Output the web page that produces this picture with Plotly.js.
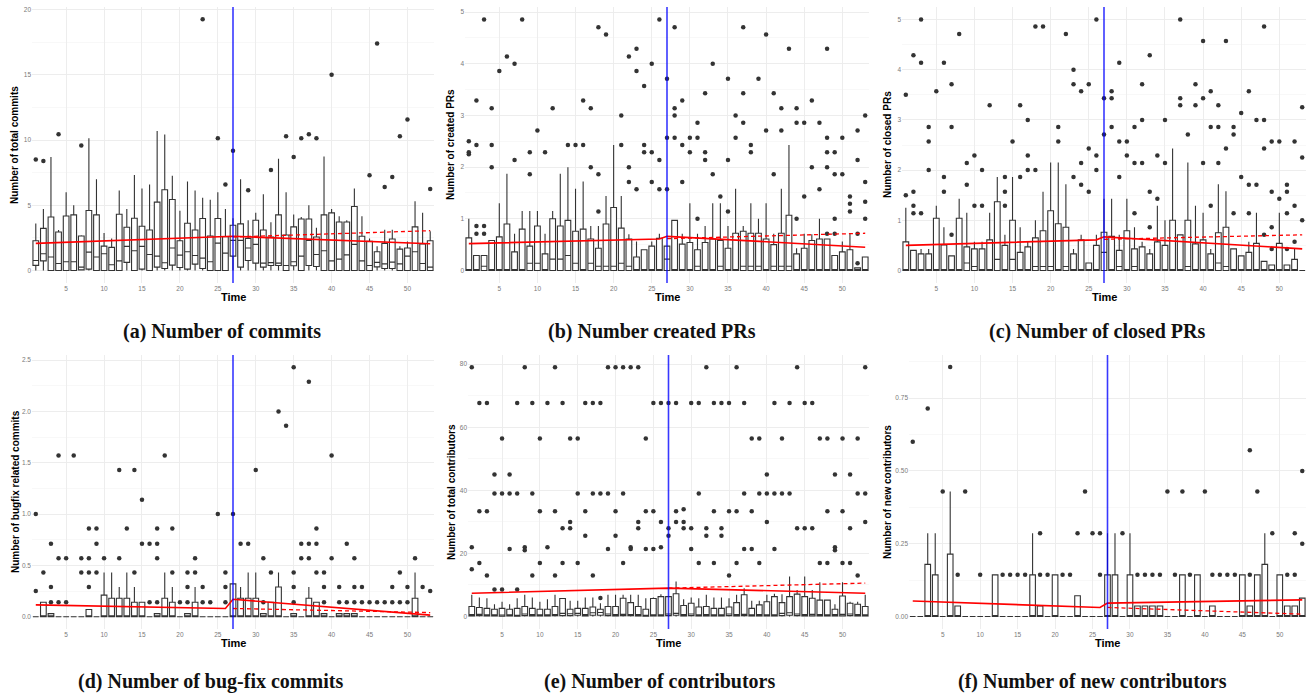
<!DOCTYPE html>
<html><head><meta charset="utf-8">
<script src="https://cdn.plot.ly/plotly-3.0.1.min.js"></script>
<style>html,body{margin:0;padding:0;background:#fff}#chart{width:1309px;height:694px}</style>
</head><body><div id="chart"></div>
<script>
// ---------------- DATA ----------------
const time = [1,2,3,4,5,6,7,8,9,10,11,12,13,14,15,16,17,18,19,20,21,22,23,24,25,26,27,28,29,30,31,32,33,34,35,36,37,38,39,40,41,42,43,44,45,46,47,48,49,50,51,52,53];
const interventionTime = 27;
const xTicks = [5,10,15,20,25,30,35,40,45,50];
const trendT = [1,26,27,53];
const cfT = [27,53];

const captions = ["(a) Number of commits","(b) Number created PRs","(c) Number of closed PRs",
                  "(d) Number of bug-fix commits","(e) Number of contributors","(f) Number of new contributors"];
const yTitles = ["Number of total commits","Number of created PRs","Number of closed PRs",
                 "Number of bugfix related commits","Number of total contributors","Number of new contributors"];
const xTitle = "Time";

// (a) commits
const q1_a = [0.39,0.74,0,0,0,0,0.05,0.1,0,0, 0,0,0.62,0,0.1,0,0.26,0.15,0.41,0.23, 0.1,0.49,0.15,0,0,0,1.1,0.26,0.77,0.56, 0.26,0.38,0.38,0,0.36,0,0.38,0.3,0,0, 0,0,0,0,0,0.28,0.15,0.15,0,0, 0,0,0];
const med_a = [0.77,1.28,1.03,0.54,0.67,0.67,0.26,1.41,1.03,1.28, 0.44,0.74,1.85,1.51,1.85,1.23,1.10,0.59,1.72,1.18, 1.44,1.15,0.95,0.67,2.10,1.33,2.31,2.31,1.72,2.00, 0.56,0.60,0.56,0.38,0.67,1.10,2.31,1.23,1.51,0.74, 0.87,1.20,2.00,0.74,0.38,0.62,0.51,0.64,0.51,1.10, 1.44,0.54,0.26];
const q3_a = [2.28,3.23,4.10,2.95,4.18,4.26,2.64,4.60,4.26,1.87, 1.77,4.31,3.31,4.00,3.39,3.10,5.24,6.19,5.44,2.28, 3.62,3.10,3.98,2.64,3.98,2.59,3.47,3.57,2.46,3.85, 3.10,2.57,4.26,2.72,3.34,3.95,3.95,2.57,4.26,4.42, 3.72,3.72,4.90,2.62,2.23,1.44,2.08,2.41,1.64,1.72, 3.34,2.03,2.28];
const up_a = [3.6,4.72,8.7,3.1,6.0,5.0,2.7,10.14,7.0,2.88, 2.46,6.14,4.72,7.32,6.29,6.6,10.7,10.42,7.27,4.57, 6.83,6.14,5.57,5.42,6.0,4.72,4.0,7.0,3.85,4.42, 5.85,3.7,8.57,6.0,4.29,4.1,5.0,3.28,8.73,4.72, 4.16,3.85,6.29,4.16,2.46,1.85,3.13,3.13,1.85,2.23, 5.31,4.42,3.0];
const out_a = [[8.5],[8.4],[],[10.45],[],[],[9.58],[],[],[],
  [],[],[],[],[],[],[],[],[],[],
  [],[],[19.26],[],[10.14],[6.6],[9.17],[],[6.16],[],
  [],[7.7],[],[10.3],[8.7],[10.14],[10.45],[10.14],[],[15.0],
  [],[],[],[],[7.3],[17.4],[6.4],[7.16],[10.3],[11.58],
  [],[],[6.24]];
const trend_a = [2.08,2.55,2.62,2.05];
const cf_a = [2.57,3.05];

// (b) created PRs
const q1_b = [0,0,0,0,0,0,0,0,0,0, 0,0,0,0,0,0,0,0,0,0, 0,0,0,0,0,0,0,0,0,0, 0,0,0,0,0,0,0,0,0,0, 0,0,0,0,0,0,0,0,0,0, 0,0,0];
const med_b = [0,0,0.08,0,0,0,0,0,0.14,0.14, 0,0.22,0.22,0.29,0.14,0,0.14,0.08,0.08,0.08, 0.14,0.08,0,0,0,0,0.22,0,0,0, 0.08,0,0,0.08,0,0,0.08,0.08,0.08,0, 0.08,0.08,0.08,0,0,0,0,0,0,0, 0,0,0];
const q3_b = [0.63,0.29,0.29,0.58,0.65,0.90,0.36,0.80,0.47,0.86, 0.32,1.00,0.86,0.97,0.76,0.80,0.61,0.43,0.90,1.22, 0.82,0.61,0.26,0.40,0.47,0.62,0.47,0.97,0.51,0.54, 0.40,0.54,0.61,0.58,0.43,0.72,0.76,0.72,0.72,0.61, 0.50,0.72,1.07,0.32,0.43,0.58,0.61,0.61,0.29,0.36, 0.40,0.05,0.26];
const up_b = [1.00,0.29,0.29,0.58,1.30,1.87,0.71,1.15,1.15,1.15, 0.71,1.15,1.87,2.00,1.58,1.72,0.86,0.86,1.44,2.43, 1.44,0.70,0.56,0.40,0.56,0.71,0.47,0.97,0.71,1.30, 0.71,0.86,1.30,1.30,0.86,1.58,0.86,1.30,1.00,1.30, 0.71,1.58,2.43,0.43,0.71,0.70,1.00,0.61,0.29,0.56, 0.71,0.05,0.26];
const out_b = [[2.5,2.29,2.25],[3.29,2.43,0.86,0.71],[4.86,0.86,0.71],[3.14,2.43,2.0],[3.86],[4.14],[4.0,2.14],[4.86],[2.29,1.86],[2.71],
  [2.29],[3.14],[],[2.43],[2.43],[3.29,2.43],[3.14,2.0],[4.71,1.86,1.14],[4.57],[],
  [3.0,2.43],[4.14,2.0,1.71],[4.29,3.86,1.57],[3.57,2.43,2.29],[4.0,2.29,1.71],[4.86,2.14,1.57],[3.71,2.57,1.57],[4.71,3.14,3.0,2.57],[3.29,2.43,1.71],[2.57,2.29],
  [2.86,2.57,1.0],[3.43,2.29,2.14],[4.0,1.86],[1.43],[3.71,2.14,1.14],[3.0,2.57],[4.71,3.43,2.86],[2.43,2.29],[3.71],[4.57,2.71],
  [3.43,1.86],[3.14,2.71],[4.29],[3.14,2.86,1.0],[2.86,1.43],[3.29,2.0],[2.86,1.57],[4.29,2.57,2.29,2.0,0.71],[2.29,1.86,1.0,0.71],[2.57,1.86],
  [1.43,1.29,1.14],[2.71,2.14,0.71,0.14],[3.0,1.71,1.33,1.0]];
const trend_b = [0.52,0.61,0.66,0.45];
const cf_b = [0.615,0.72];

// (c) closed PRs
const q1_c = [0,0,0,0,0,0,0,0,0,0, 0,0,0,0,0,0,0,0,0,0, 0,0,0,0,0,0,0,0,0,0, 0,0,0,0,0,0,0,0,0,0, 0,0,0,0,0,0,0,0,0,0, 0,0,0];
const med_c = [0,0,0,0,0,0,0,0,0.15,0.08, 0,0,0.22,0,0.22,0,0,0.08,0.08,0.08, 0,0.08,0,0,0,0,0.36,0,0.08,0, 0.08,0,0,0,0,0,0,0.08,0,0, 0,0.15,0.08,0,0,0,0,0,0,0, 0,0,0];
const q3_c = [0.57,0.40,0.33,0.33,1.04,0.51,0.29,1.04,0.47,0.43, 0.43,0.61,1.37,0.50,1.00,0.36,0.47,0.65,0.79,1.19, 0.93,0.86,0.33,0.61,0.15,0.50,0.76,0.68,0.40,0.79, 0.43,0.47,0.33,0.57,0.50,1.00,0.71,1.00,0.53,0.61, 0.33,0.75,0.86,0.43,0.29,0.36,0.54,0.18,0.11,0.54, 0.11,0.22,0];
const up_c = [1.25,0.40,0.43,0.43,1.29,0.86,0.29,1.43,1.15,0.57, 0.57,1.15,1.86,0.71,1.86,0.86,0.57,1.00,1.57,2.15, 2.15,1.72,0.43,0.71,0.15,0.71,1.43,1.43,0.71,1.43, 0.86,0.57,0.43,1.29,1.00,2.43,0.71,2.15,1.29,1.15, 0.43,1.72,1.58,0.43,0.29,0.57,1.15,0.18,0.11,1.15, 0.11,0.43,0];
const out_c = [[3.5,1.5],[4.29,1.57,1.29,1.14],[5.0,4.14,1.14],[2.86,2.57,2.0],[3.57],[4.14,1.86,1.57],[3.71,2.86,0.71],[4.71],[2.14,1.71],[2.29,1.29],
  [2.0,1.29],[3.29],[],[1.86,1.57,1.29],[2.57],[3.29,1.86],[3.0,2.29,2.0],[4.86,2.0],[4.86],[],
  [2.86,2.57],[4.71],[4.0,3.71,1.86],[3.57,2.14,1.71],[3.71,2.43,1.57],[5.0,2.29,2.0],[3.43,2.71],[3.57,3.43,2.86],[4.14,2.57,1.86],[2.57,2.29],
  [2.86,2.14,1.14],[3.71,3.0,2.14],[4.29,1.57,0.86],[2.29,1.43],[3.0,2.14],[],[5.0,3.43,3.29],[2.71],[3.71,3.29],[4.57,3.43,2.14],
  [3.57,2.86,1.29],[3.29,2.86,2.14],[4.57,2.43],[2.86,2.71,1.14],[3.14,1.86],[3.57,1.71,1.14],[3.0,1.71],[4.86,3.0,2.43,0.71],[2.57,1.57,0.86,0.43],[2.57,1.43],
  [1.71,1.57,1.14,0.43],[2.57,1.29,0.57],[3.25,2.25,1.0]];
const trend_c = [0.50,0.61,0.67,0.43];
const cf_c = [0.62,0.71];

// (d) bug-fix commits
const q1_d = [0,0,0,0,0,0,0,0,0,0, 0,0,0,0,0,0,0,0,0,0, 0,0,0,0,0,0,0,0,0,0, 0,0,0,0,0,0,0,0,0,0, 0,0,0,0,0,0,0,0,0,0, 0,0,0];
const med_d = [0,0,0,0,0,0,0,0,0,0, 0,0,0,0,0,0,0,0,0,0, 0,0,0,0,0,0,0,0,0,0, 0,0,0,0,0,0,0,0,0,0, 0,0,0,0,0,0,0,0,0,0, 0,0,0];
const q3_d = [0,0.14,0.03,0,0,0,0,0.07,0,0.21, 0.18,0.18,0.18,0.14,0.14,0,0.03,0.18,0.14,0, 0.03,0.14,0,0,0,0,0.32,0.18,0.18,0.18, 0.03,0.14,0.29,0,0.03,0,0.18,0.14,0.03,0, 0.03,0.03,0.03,0,0,0,0,0,0,0, 0.18,0,0];
const up_d = [0,0.14,0.03,0,0,0,0,0.07,0,0.43, 0.43,0.29,0.43,0.29,0.14,0,0.03,0.43,0.29,0, 0.03,0.29,0,0,0,0,0.32,0.29,0.43,0.43, 0.03,0.14,0.43,0,0.03,0,0.29,0.14,0.03,0, 0.03,0.03,0.03,0,0,0,0,0,0,0, 0.43,0,0];
const out_d = [[1.0,0.25],[0.43],[0.71,0.29,0.14],[1.57,0.57,0.14],[0.57,0.14],[1.57],[0.57,0.43],[0.86,0.57,0.43,0.29],[0.86,0.71,0.43],[0.57],
  [],[1.43,0.57],[0.86],[1.43,0.43],[1.14,0.71],[0.71,0.14],[0.86,0.71,0.57,0.14],[1.57],[0.86,0.43],[0.14],
  [0.43,0.29,0.14],[0.57,0.43],[0.29,0.14],[0.14],[1.0],[0.43,0.29,0.14],[1.0],[0.71],[0.71],[1.43],
  [0.57,0.14],[0.43],[2.0],[1.86],[2.43,0.43,0.29,0.14],[0.71,0.57],[2.29,0.71,0.57],[0.86,0.71,0.43],[0.43,0.29,0.14],[1.57,0.57],
  [0.29,0.14],[0.71,0.14],[0.57,0.29,0.14],[0.29,0.14],[0.14],[0.14],[0.14],[0.29,0.14],[0.43,0.14],[0.29,0.14],
  [0.57],[0.29],[0.25]];
const trend_d = [0.115,0.08,0.17,0.015];
const cf_d = [0.08,0.04];

// (e) contributors
const q1_e = [0.2,0.3,0.2,0.2,0.1,0.2,0.1,0.3,0.2,0.2, 0.2,0.3,0.3,0.3,0.4,0.2,0.4,0.4,0.3,0.2, 0.3,0.3,0.2,0.1,0.2,0.2,0.3,0.4,0.2,0.3, 0.2,0.2,0.2,0.2,0.3,0.2,0.3,0.2,0.2,0.2, 0.2,0.3,0.4,0.3,0.2,0.2,0.2,0.2,0.2,0.2, 0.3,0.2,0.2];
const med_e = [0.6,0.7,0.5,0.4,0.5,0.4,0.4,0.8,0.6,0.5, 0.5,0.6,1.0,0.9,1.0,0.6,1.2,1.3,0.8,0.6, 0.7,0.6,0.6,0.4,0.5,0.5,0.8,1.0,0.6,0.8, 0.5,0.6,0.5,0.5,0.8,0.6,0.7,0.5,0.6,0.5, 0.5,1.0,1.2,0.8,0.6,0.7,0.6,0.5,0.6,0.7, 0.8,0.6,0.5];
const q3_e = [3.2,2.85,2.6,2.3,2.6,2.3,2.6,3.2,2.6,2.3, 2.3,3.2,5.7,2.3,2.6,2.6,3.0,2.3,3.2,3.2, 5.8,4.4,3.2,2.3,5.7,6.3,6.3,7.2,3.5,4.2, 3.0,3.2,2.6,2.6,3.0,4.4,6.9,2.6,3.7,4.7, 6.3,4.4,6.3,7.1,6.3,5.8,5.2,5.2,2.3,6.5, 4.2,3.9,3.2];
const up_e = [6.9,6.0,5.8,3.9,4.7,3.9,5.8,6.9,6.0,4.7, 5.5,6.9,5.7,5.0,5.0,6.0,6.0,4.2,6.9,6.9, 6.9,6.9,6.9,5.8,6.0,7.1,6.3,11.1,5.5,6.0, 5.8,6.9,6.0,6.0,5.8,6.9,9.0,5.0,5.0,6.9, 7.2,7.1,12.7,8.4,12.7,8.4,10.9,5.4,3.9,10.9, 4.7,4.7,6.9];
const out_e = [[79,22,15],[67.7,33.4,17],[67.7,33.4,13],[45,39,8.6],[56.4,39,8.6],[45,39,21.4],[67.7,39,8.6],[79,22,21],[67.7,39,13],[56.4,33.4,17],
  [67.7,22],[79,33.4,13],[67.7,28,17],[56.4,30,28],[56.4,39,17],[67.7,33.4,25.6],[67.7,39,13],[67.7,39,5.9],[79,39,21.4],[79,33.4,25.6],
  [79,39,17],[79,22,21.4],[79,30,28],[56.4,33.4,21.4],[67.7,33.4,21.4],[67.7,30,22],[67.7,28,25.6],[67.7,33.4,30],[34,30,28],[67.7,28,21.4],
  [67.7,39,17],[79,28,25.6],[67.7,33.4,17],[67.7,28,25.6],[67.7,33.4,13],[79,33.4,17],[67.7,39,21.4],[56.4,33.4,21.4],[56.4,39,17],[45,39,30],
  [67.7,39,21.4],[56.4,39],[67.7,39],[79,28],[67.7,28],[67.7,28],[56.4,17],[56.4,33.4,17],[45,22,21],[56.4,33.4,17],
  [45,28,17],[56.4,39,13],[79,39,30]];
const trend_e = [7.4,9.0,9.0,7.4];
const cf_e = [9.0,10.6];

// (f) new contributors
const q1_f = [0,0,0,0,0,0,0,0,0,0, 0,0,0,0,0,0,0,0,0,0, 0,0,0,0,0,0,0,0,0,0, 0,0,0,0,0,0,0,0,0,0, 0,0,0,0,0,0,0,0,0,0, 0,0,0];
const med_f = [0,0,0,0,0,0,0,0,0,0, 0,0,0,0,0,0,0,0,0,0, 0,0,0,0,0,0,0,0,0,0, 0,0,0,0,0,0,0,0,0,0, 0,0,0,0,0,0,0,0,0,0, 0,0,0];
const q3_f = [0,0,0.179,0.143,0,0.214,0.036,0,0,0, 0,0.143,0,0,0,0,0.143,0.036,0,0.143, 0,0,0.071,0,0,0,0.143,0.143,0,0.143, 0.036,0.036,0.036,0.036,0,0,0.143,0,0.143,0, 0.036,0,0,0,0.143,0.036,0.143,0.179,0,0.143, 0.036,0.036,0.063];
const up_f = [0,0,0.286,0.286,0,0.429,0.036,0,0,0, 0,0.143,0,0,0,0,0.286,0.036,0,0.143, 0,0,0.071,0,0,0,0.286,0.286,0,0.286, 0.036,0.036,0.036,0.036,0,0,0.143,0,0.143,0, 0.036,0,0,0,0.143,0.036,0.143,0.286,0,0.143, 0.036,0.036,0.063];
const out_f = [[0.6],[],[0.714],[],[0.429],[0.857],[0.143],[0.429],[],[0.143],
  [],[],[0.143],[0.143],[0.143],[0.143],[],[0.286,0.143],[0.143],[],
  [0.143],[0.143],[0.286],[0.429],[0.286],[0.286,0.143],[],[],[0.286],[],
  [0.143],[0.143],[0.143],[0.143],[0.429],[0.143],[0.429],[0.143],[],[0.429],
  [0.143],[0.143],[0.143],[0.143],[],[0.571,0.143],[0.429],[],[0.286],[],
  [0.143],[0.286,0.143],[0.5,0.25]];
const trend_f = [0.053,0.031,0.046,0.057];
const cf_f = [0.031,0.008];

// ---------------- LAYOUT CONFIG (positions / styles) ----------------
const W = 1309, H = 694;
const panelsPx = [
  {x0:32, x1:434, y0:7, y1:283, yr:[-0.96,20.2], dtick:5, minor:2.5, fmt:'d'},
  {x0:465, x1:869, y0:7, y1:283, yr:[-0.243,5.1], dtick:1, minor:0.5, fmt:'d'},
  {x0:902, x1:1306, y0:7, y1:283, yr:[-0.25,5.25], dtick:1, minor:0.5, fmt:'d'},
  {x0:32, x1:434, y0:355, y1:629, yr:[-0.12,2.55], dtick:0.5, minor:0.25, fmt:'.1f'},
  {x0:468, x1:869, y0:355, y1:629, yr:[-3.95,82.9], dtick:20, minor:10, fmt:'d'},
  {x0:909, x1:1306, y0:355, y1:629, yr:[-0.043,0.898], dtick:0.25, minor:0.125, fmt:'.2f'}
];
const yTitleX = [14, 450, 887, 15, 451, 887];
const captionX = [222, 652, 1097, 210, 659, 1092];

const series = [
  {q1:q1_a, med:med_a, q3:q3_a, up:up_a, out:out_a, tr:trend_a, cf:cf_a},
  {q1:q1_b, med:med_b, q3:q3_b, up:up_b, out:out_b, tr:trend_b, cf:cf_b},
  {q1:q1_c, med:med_c, q3:q3_c, up:up_c, out:out_c, tr:trend_c, cf:cf_c},
  {q1:q1_d, med:med_d, q3:q3_d, up:up_d, out:out_d, tr:trend_d, cf:cf_d},
  {q1:q1_e, med:med_e, q3:q3_e, up:up_e, out:out_e, tr:trend_e, cf:cf_e},
  {q1:q1_f, med:med_f, q3:q3_f, up:up_f, out:out_f, tr:trend_f, cf:cf_f}
];

const traces = [];
const layout = {
  width: W, height: H, margin:{l:0,r:0,t:0,b:0},
  paper_bgcolor:'#fff', plot_bgcolor:'#fff', showlegend:false,
  font:{family:'Liberation Sans, Arial, sans-serif'},
  shapes:[], annotations:[]
};

series.forEach((s, i) => {
  const n = i + 1;
  const xa = n === 1 ? 'x' : 'x' + n;
  const ya = n === 1 ? 'y' : 'y' + n;
  const p = panelsPx[i];
  const lower = s.q1.map(() => 0);

  traces.push({
    type:'box', x: time, q1: s.q1, median: s.med, q3: s.q3,
    lowerfence: lower, upperfence: s.up,
    xaxis: xa, yaxis: ya, width: 0.75, whiskerwidth: 0,
    fillcolor:'#ffffff', line:{color:'#333333', width:1.1},
    boxpoints:false, hoverinfo:'skip', showlegend:false
  });

  const ox = [], oy = [];
  s.out.forEach((vals, k) => vals.forEach(v => { ox.push(time[k]); oy.push(v); }));
  traces.push({
    type:'scatter', mode:'markers', x: ox, y: oy, xaxis: xa, yaxis: ya,
    marker:{size:4.5, color:'#333333'}, hoverinfo:'skip', showlegend:false
  });

  traces.push({
    type:'scatter', mode:'lines', x: cfT, y: s.cf, xaxis: xa, yaxis: ya,
    line:{color:'#ff0000', width:1.3, dash:'4px,3px'}, hoverinfo:'skip', showlegend:false
  });
  traces.push({
    type:'scatter', mode:'lines', x: trendT, y: s.tr, xaxis: xa, yaxis: ya,
    line:{color:'#ff0000', width:1.6}, hoverinfo:'skip', showlegend:false
  });

  const xKey = n === 1 ? 'xaxis' : 'xaxis' + n;
  const yKey = n === 1 ? 'yaxis' : 'yaxis' + n;
  layout[xKey] = {
    domain:[p.x0 / W, p.x1 / W], anchor: ya, range:[0.5, 53.5],
    tickmode:'array', tickvals: xTicks, ticks:'', showline:false, zeroline:false,
    showgrid:true, gridcolor:'#ebebeb', gridwidth:0.9,
    tickfont:{size:6.5, color:'#7a7a7a'}, fixedrange:true
  };
  layout[yKey] = {
    domain:[1 - p.y1 / H, 1 - p.y0 / H], anchor: xa, range: p.yr,
    tick0:0, dtick: p.dtick, tickformat: p.fmt, ticks:'', showline:false, zeroline:false,
    showgrid:true, gridcolor:'#ebebeb', gridwidth:0.9,
    minor:{dtick:p.minor, tick0:0, showgrid:true, gridcolor:'#f3f3f3', gridwidth:0.6},
    tickfont:{size:6.5, color:'#7a7a7a'}, fixedrange:true
  };

  layout.shapes.push({
    type:'line', xref: xa, yref: ya + ' domain', x0: interventionTime, x1: interventionTime, y0:0, y1:1,
    line:{color:'rgba(0,0,255,0.78)', width:1.6}, layer:'above'
  });

  const rowTimeY = i < 3 ? 297 : 643;
  const capY = i < 3 ? 332 : 681;
  layout.annotations.push({
    xref:'paper', yref:'paper', x: ((p.x0 + p.x1) / 2) / W, y: 1 - rowTimeY / H,
    text:'<b>' + xTitle + '</b>', showarrow:false, xanchor:'center', yanchor:'middle',
    font:{size:11, color:'#000', family:'Liberation Sans, Arial, sans-serif'}
  });
  layout.annotations.push({
    xref:'paper', yref:'paper', x: yTitleX[i] / W, y: 1 - ((p.y0 + p.y1) / 2) / H,
    text:'<b>' + yTitles[i] + '</b>', showarrow:false, textangle:-90, xanchor:'center', yanchor:'middle',
    font:{size:10, color:'#000', family:'Liberation Sans, Arial, sans-serif'}
  });
  layout.annotations.push({
    xref:'paper', yref:'paper', x: captionX[i] / W, y: 1 - capY / H,
    text:'<b>' + captions[i] + '</b>', showarrow:false, xanchor:'center', yanchor:'middle',
    font:{size:20, color:'#111', family:'Liberation Serif, Times New Roman, serif'}
  });
});

Plotly.newPlot('chart', traces, layout, {staticPlot:true, displayModeBar:false});
</script>
</body></html>
